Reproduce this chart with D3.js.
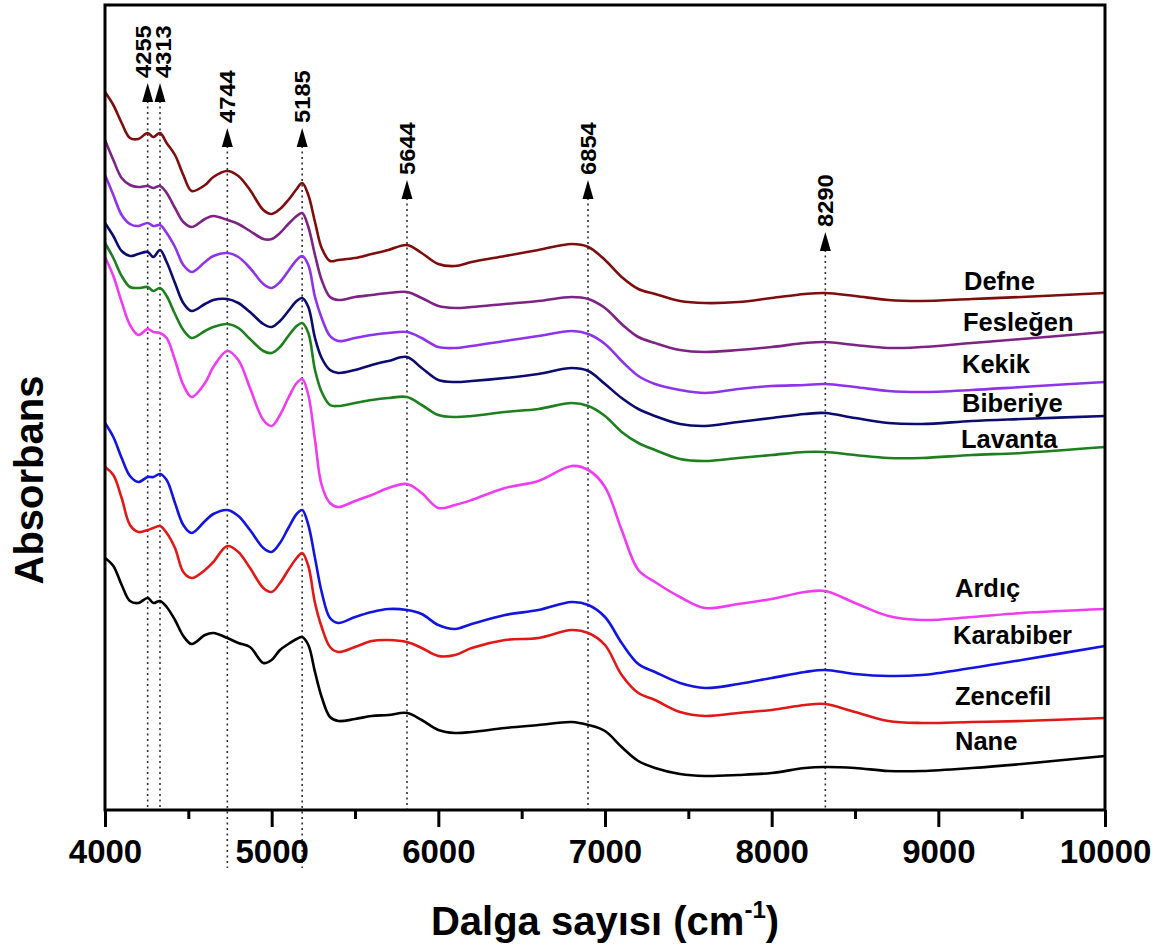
<!DOCTYPE html>
<html>
<head>
<meta charset="utf-8">
<script src="https://cdn.jsdelivr.net/npm/d3@7"></script>
<style>
  body { margin: 0; background: #fff; }
  svg text { font-family: "Liberation Sans", Arial, sans-serif; font-weight: bold; fill: #000; }
</style>
</head>
<body>
<div id="root"></div>
<script>

// wavenumber grid (cm-1) shared by all spectra
const wavenumbers = [4000, 4050, 4100, 4150, 4200, 4256, 4290, 4330, 4370, 4420,
  4470, 4520, 4600, 4650, 4734, 4800, 4870, 4950, 5000, 5050,
  5100, 5150, 5183, 5220, 5260, 5300, 5350, 5400, 5500, 5600,
  5700, 5812, 5900, 6000, 6100, 6200, 6400, 6600, 6800, 6900,
  7000, 7100, 7200, 7300, 7450, 7600, 7800, 8000, 8200, 8320,
  8500, 8700, 8900, 9200, 9500, 10000]

// absorbance (offset, arbitrary units)
const defne = [7.18,7.05,6.87,6.72,6.71, 6.77,6.73,6.77,6.67,6.55, 6.35,6.19,6.25,6.33,6.39, 6.34,6.20,6.00,5.96,6.01,
  6.10,6.21,6.27,6.15,5.88, 5.62,5.49,5.50,5.52,5.56, 5.60,5.65,5.57,5.46,5.44, 5.48,5.54,5.60,5.66,5.63,
  5.50,5.33,5.21,5.16,5.09, 5.07,5.08,5.12,5.16,5.17, 5.14,5.10,5.09,5.11,5.13, 5.17]
const feslegen = [6.70,6.50,6.32,6.25,6.23, 6.24,6.22,6.24,6.17,6.02, 5.88,5.83,5.91,5.94,5.90, 5.86,5.79,5.71,5.71,5.77,
  5.86,5.94,5.97,5.83,5.55, 5.30,5.13,5.10,5.13,5.15, 5.17,5.18,5.12,5.04,5.02, 5.03,5.06,5.09,5.13,5.11,
  5.02,4.86,4.73,4.67,4.60, 4.58,4.60,4.63,4.67,4.68, 4.65,4.62,4.63,4.67,4.71, 4.78]
const kekik = [6.35,6.15,5.95,5.86,5.84, 5.87,5.84,5.85,5.77,5.63, 5.45,5.38,5.48,5.54,5.57, 5.53,5.42,5.26,5.22,5.28,
  5.39,5.50,5.54,5.45,5.13, 4.92,4.74,4.69,4.72,4.75, 4.77,4.78,4.72,4.63,4.62, 4.64,4.69,4.74,4.79,4.76,
  4.66,4.49,4.34,4.26,4.20, 4.17,4.21,4.24,4.25,4.26, 4.23,4.19,4.18,4.20,4.23, 4.28]
const biberiye = [5.87,5.74,5.59,5.54,5.56, 5.58,5.53,5.60,5.48,5.27, 5.07,4.99,5.06,5.10,5.11, 5.07,4.98,4.86,4.83,4.89,
  4.99,5.09,5.12,5.03,4.72, 4.52,4.40,4.37,4.40,4.45, 4.49,4.53,4.42,4.30,4.28, 4.29,4.32,4.36,4.42,4.39,
  4.26,4.12,4.01,3.94,3.86, 3.84,3.88,3.92,3.96,3.97, 3.92,3.87,3.86,3.89,3.91, 3.94]
const lavanta = [5.67,5.52,5.34,5.23,5.22, 5.23,5.19,5.22,5.14,4.96, 4.80,4.72,4.79,4.83,4.86, 4.82,4.71,4.59,4.57,4.63,
  4.74,4.84,4.87,4.77,4.40, 4.18,4.05,4.04,4.07,4.10, 4.12,4.13,4.05,3.95,3.93, 3.94,3.98,4.01,4.07,4.04,
  3.94,3.78,3.67,3.60,3.51, 3.49,3.52,3.55,3.58,3.58, 3.55,3.52,3.52,3.55,3.57, 3.63]
const ardic = [5.53,5.34,5.08,4.85,4.75, 4.81,4.78,4.77,4.72,4.50, 4.25,4.13,4.27,4.43,4.59, 4.50,4.22,3.90,3.84,3.95,
  4.12,4.27,4.31,4.15,3.70, 3.25,3.07,3.03,3.09,3.15, 3.22,3.26,3.17,3.02,3.05, 3.10,3.22,3.29,3.44,3.40,
  3.23,2.80,2.40,2.28,2.13, 2.02,2.06,2.11,2.18,2.19, 2.07,1.94,1.90,1.93,1.97, 2.01]
const karabiber = [3.87,3.73,3.52,3.34,3.28, 3.33,3.33,3.36,3.30,3.07, 2.85,2.77,2.89,2.96,3.00, 2.94,2.80,2.62,2.58,2.67,
  2.82,2.96,3.00,2.85,2.52, 2.18,1.92,1.87,1.93,1.98, 2.01,2.00,1.96,1.85,1.81, 1.86,1.95,2.00,2.08,2.05,
  1.93,1.67,1.46,1.38,1.27, 1.22,1.26,1.32,1.38,1.40, 1.36,1.34,1.35,1.42,1.50, 1.64]
const zencefil = [3.43,3.35,3.12,2.85,2.78, 2.80,2.82,2.84,2.77,2.62, 2.38,2.32,2.40,2.48,2.64, 2.58,2.42,2.22,2.18,2.27,
  2.40,2.52,2.57,2.44,2.07, 1.83,1.63,1.58,1.63,1.69, 1.70,1.68,1.62,1.54,1.55, 1.62,1.70,1.72,1.80,1.77,
  1.65,1.35,1.17,1.10,0.98, 0.94,0.97,1.00,1.05,1.06, 0.98,0.89,0.87,0.88,0.89, 0.92]
const nane = [2.52,2.44,2.25,2.09,2.07, 2.12,2.07,2.09,2.03,1.90, 1.74,1.66,1.75,1.77,1.72, 1.67,1.63,1.47,1.50,1.60,
  1.66,1.71,1.73,1.65,1.38, 1.13,0.93,0.89,0.91,0.94, 0.95,0.97,0.90,0.80,0.77, 0.78,0.82,0.85,0.88,0.85,
  0.79,0.63,0.49,0.42,0.36, 0.34,0.35,0.37,0.42,0.43, 0.42,0.39,0.39,0.42,0.46, 0.54]

const series_names = ["Defne", "Fesleğen", "Kekik", "Biberiye", "Lavanta", "Ardıç", "Karabiber", "Zencefil", "Nane"]
const series_values = [defne, feslegen, kekik, biberiye, lavanta, ardic, karabiber, zencefil, nane]

// peak markers: label text, where the dotted line sits
const peak_labels = ["4255", "4313", "4744", "5185", "5644", "6854", "8290"]
const peak_positions = [4256, 4330, 4734, 5183, 5812, 6898, 8322]

const x_ticks = [4000, 5000, 6000, 7000, 8000, 9000, 10000]
const x_minor_ticks = [4500, 5500, 6500, 7500, 8500, 9500]


// ---- layout / style (not data) ----
const series_colors = ["#7e0d0d", "#7d2383", "#8f33ea", "#0b0b70", "#1d7f1d", "#f03cf0", "#1414e0", "#e01818", "#000000"]
// where each name sits: [wavenumber, absorbance] of the text baseline start
const label_spots = [[9154, 5.20], [9148, 4.79], [9142, 4.37], [9142, 3.98], [9136, 3.62],
                     [9100, 2.13], [9088, 1.66], [9100, 1.05], [9100, 0.60]]
// arrow tip height (absorbance units) and small label nudges
const peak_tip_levels = [7.27, 7.27, 6.82, 6.82, 6.30, 6.30, 5.78]
const peak_label_dx = [-4, 3, 0, 0, 0, 0, 0]
const peak_line_extra = [0, 0, 58, 58, 0, 0, 0]

const width = 1168, height = 952
const margin = {top: 5, right: 63, bottom: 142, left: 105}

const svg = d3.select("#root").append("svg")
  .attr("width", width)
  .attr("height", height)

const x_scale = d3.scaleLinear()
  .domain([4000, 10000])
  .range([margin.left, width - margin.right])

const y_scale = d3.scaleLinear()
  .domain([0, 8.05])
  .range([height - margin.bottom, margin.top])

const y0 = y_scale(0)

// dotted peak lines + arrows + labels
const peaks = svg.append("g")
peak_labels.forEach((label, i) => {
  const px = x_scale(peak_positions[i])
  const tip = y_scale(peak_tip_levels[i])
  peaks.append("line")
    .attr("x1", px).attr("x2", px)
    .attr("y1", tip + 18).attr("y2", y0 + peak_line_extra[i])
    .attr("stroke", "#333")
    .attr("stroke-width", 1.6)
    .attr("stroke-dasharray", "2,3.5")
  peaks.append("path")
    .attr("d", `M${px},${tip} L${px - 5.5},${tip + 19} L${px + 5.5},${tip + 19} Z`)
    .attr("fill", "#000")
  peaks.append("text")
    .attr("transform", `translate(${px + peak_label_dx[i]},${tip - 5}) scale(1,1.08) rotate(-90)`)
    .attr("dominant-baseline", "central")
    .style("font-size", "22px")
    .text(label)
})

// spectra
const line_gen = d3.line()
  .x((d, i) => x_scale(wavenumbers[i]))
  .y(d => y_scale(d))
  .curve(d3.curveCatmullRom.alpha(0.5))

svg.append("g")
  .selectAll("path")
  .data(series_values)
  .enter()
  .append("path")
  .attr("d", d => line_gen(d))
  .attr("fill", "none")
  .attr("stroke", (d, i) => series_colors[i])
  .attr("stroke-width", 2.6)
  .attr("stroke-linejoin", "round")

// series names
svg.append("g")
  .selectAll("text")
  .data(series_names)
  .enter()
  .append("text")
  .attr("x", (d, i) => x_scale(label_spots[i][0]))
  .attr("y", (d, i) => y_scale(label_spots[i][1]))
  .style("font-size", "25.5px")
  .text(d => d)

// frame
svg.append("rect")
  .attr("x", margin.left)
  .attr("y", margin.top)
  .attr("width", width - margin.left - margin.right)
  .attr("height", height - margin.top - margin.bottom)
  .attr("fill", "none")
  .attr("stroke", "#000")
  .attr("stroke-width", 3)

// x axis, major and minor ticks
const x_axis = svg.append("g")
  .attr("transform", "translate(0," + y0 + ")")
  .call(d3.axisBottom(x_scale).tickValues(x_ticks).tickSize(17).tickPadding(13).tickFormat(d3.format("d")))
x_axis.select(".domain").remove()
x_axis.selectAll("line").attr("stroke-width", 3)
x_axis.selectAll("text")
  .style("font-size", "33px")
  .style("font-family", "'Liberation Sans', Arial, sans-serif")
  .style("font-weight", "bold")

const x_minor = svg.append("g")
  .attr("transform", "translate(0," + y0 + ")")
  .call(d3.axisBottom(x_scale).tickValues(x_minor_ticks).tickSize(9).tickFormat(""))
x_minor.select(".domain").remove()
x_minor.selectAll("line").attr("stroke-width", 3)

// axis titles
svg.append("text")
  .attr("transform", "translate(43,480) rotate(-90)")
  .attr("text-anchor", "middle")
  .style("font-size", "40px")
  .text("Absorbans")

const x_title = svg.append("text")
  .attr("x", 605)
  .attr("y", 935)
  .attr("text-anchor", "middle")
  .style("font-size", "40px")
x_title.append("tspan").text("Dalga sayısı (cm")
x_title.append("tspan").attr("dy", -17).style("font-size", "24px").text("-1")
x_title.append("tspan").attr("dy", 17).text(")")

</script>
</body>
</html>
